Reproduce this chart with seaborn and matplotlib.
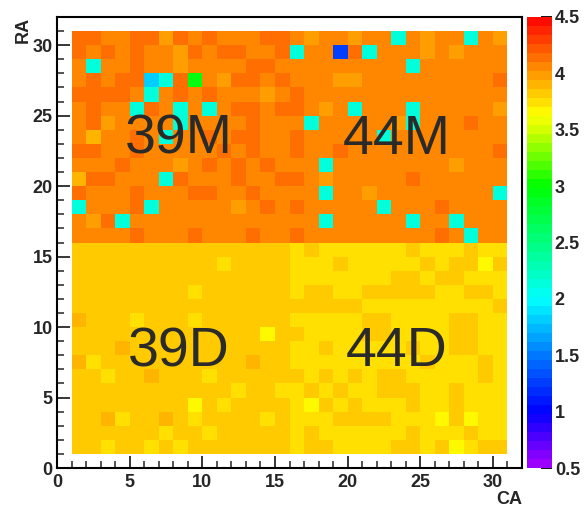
import numpy as np
import pandas as pd
import matplotlib
matplotlib.use('Agg')
from matplotlib import pyplot as plt
from matplotlib.colors import ListedColormap, hsv_to_rgb
from matplotlib.ticker import MultipleLocator
import seaborn as sns

sns.set_style('white')
plt.rcParams['font.family'] = ['Liberation Sans', 'DejaVu Sans']

# cell code -> value
levels = {'r': 4.16, 'o': 4.06, 'l': 3.97, 'L': 3.90, 'O': 3.90,
          'y': 3.82, 'w': 3.74, 'v': 3.66,
          'c': 2.12, 'C': 1.80, 'g': 2.95, 'b': 1.28}

# upper half, RA = 30 .. 16, CA = 1 .. 30 (groups of 5 columns)
rows_m = [
    "rroor rlror ooorr olool oocol oocol",
    "roror oolro rroor coobr coool olooo",
    "ocoor ooloo oorro ooooo oooco ooooo",
    "ororr Ccrgo lrror oooll ooooo oooor",
    "rrrro coror ooolo roooo ooooo ooooo",
    "orooc rococ orror roloc oooco ooool",
    "orloo oocoo ooroo ocooo oolco ooroo",
    "oLoor ocoor orroo roooo ocooo ooooo",
    "rroor ooooo roroo rooro ooooo oooor",
    "oooro oolor ororo oocoo ooooo olooo",
    "Lrroo ocroo oroor roloo oooro ooooo",
    "rooor ooorr ooroo oocoo loooo ooooc",
    "cooor coooo oloro roooo ocooo roooo",
    "olrco ooooo ooooo oocoo oooco ocooo",
    "oooor oooro ooroo roooo ooooo rocoo",
]

# lower half, RA = 15 .. 1
rows_d = [
    "yyyyy yyyyy yyyyy wywww wwwyw wwyww",
    "yyyyy yyyyy wyyyy wwwyw wwwwy wyyvy",
    "yyyyy yyyyy yyyyy wwwww wwyyw yywww",
    "yyyyy yyywy yyyyy wyyww yyyyy wwyyw",
    "yyyyy yyyyy yyyyy yyyyy wwwww wwwwy",
    "Oyyyw yyywy yyyyy wwwww yywww wyyww",
    "yyyyy yyyyy yyyvy ywwww yywww wyyww",
    "yyyOy yyyyy yyyyy wwyww wwwyw wyyww",
    "Owyyy yyyyy yyOyy wwwww wwwwy wwwyw",
    "yywyy Oyyyw yyyyy ywywy wyyww wwwyw",
    "yyyyy yyyyy ywyyw wywyw wyyyw wywww",
    "yyyyy yyyvy wyyyy wvywy wwwyw wywww",
    "yyOwy yOywy yyywy wwwyy yywww vyvww",
    "yyyyy ywyyw yyyyy wywww wwwyw wwyww",
    "yywyy wywyy yyyyy wyyww wwyyw yvwyy",
]

labels = ['39M', '44M', '39D', '44D']
label_ca = [8.4, 23.4, 8.4, 23.4]
label_ra = [23.3, 23.3, 8.2, 8.2]

axis_ticks = [0, 5, 10, 15, 20, 25, 30]
cbar_ticks = [0.5, 1, 1.5, 2, 2.5, 3, 3.5, 4, 4.5]

# 32x32 grid so that heatmap cell i spans i..i+1 on the axis
grid = np.full((32, 32), np.nan)
for i, s in enumerate(rows_m + rows_d):
    ra = 30 - i
    grid[ra, 1:31] = [levels[ch] for ch in s.replace(' ', '')]
df = pd.DataFrame(grid)

# ROOT-like rainbow palette, 50 steps violet -> red
pal_vals = [0.5, 1.0, 1.5, 2.0, 2.5, 3.0, 3.5, 3.75, 4.0, 4.5]
pal_hues = [280, 240, 212, 180, 150, 120, 70, 52, 36, 0]
centers = 0.5 + 0.08 * (np.arange(50) + 0.5)
hues = np.interp(centers, pal_vals, pal_hues) / 360
cmap = ListedColormap(hsv_to_rgb(np.column_stack([hues, np.ones(50), np.ones(50)])))

fig = plt.figure(figsize=(5.87, 5.12), dpi=100)
ax = fig.add_axes([0.0971, 0.0859, 0.7922, 0.8809])
cax = fig.add_axes([0.8978, 0.0859, 0.0426, 0.8809])

sns.heatmap(df, ax=ax, cbar_ax=cax, cmap=cmap, vmin=0.5, vmax=4.5,
            xticklabels=False, yticklabels=False)
ax.set_xlim(0, 32)
ax.set_ylim(0, 32)

for sp in ax.spines.values():
    sp.set_visible(True)
    sp.set_linewidth(1.5)
    sp.set_color('black')

ax.set_xticks(axis_ticks)
ax.set_yticks(axis_ticks)
ax.set_xticklabels(axis_ticks, fontweight='bold', fontsize=13)
ax.set_yticklabels(axis_ticks, fontweight='bold', fontsize=13)
ax.xaxis.set_minor_locator(MultipleLocator(1))
ax.yaxis.set_minor_locator(MultipleLocator(1))
ax.tick_params(which='major', direction='in', length=9, width=1.3,
               bottom=True, left=True, top=False, right=False, pad=3)
ax.tick_params(which='minor', direction='in', length=5, width=1.1,
               bottom=True, left=True, top=False, right=False)
ax.tick_params(axis='x', which='major', pad=4)

ax.set_xlabel('CA', loc='right', fontweight='bold', fontsize=13, labelpad=0)
ax.set_ylabel('RA', loc='top', fontweight='bold', fontsize=13, labelpad=1)

for s, x, y in zip(labels, label_ca, label_ra):
    ax.text(x, y, s, fontsize=40, color='#2a2a2a', ha='center', va='center')

cbar = ax.collections[0].colorbar
cbar.outline.set_visible(False)
cbar.set_ticks(cbar_ticks)
cbar.set_ticklabels([f'{t:g}' for t in cbar_ticks])
cax.tick_params(direction='in', length=8, width=1.3, labelsize=13, pad=2,
                color='black', right=True, left=False)
for t in cax.get_yticklabels():
    t.set_fontweight('bold')

fig.savefig('out.png', dpi=100)
